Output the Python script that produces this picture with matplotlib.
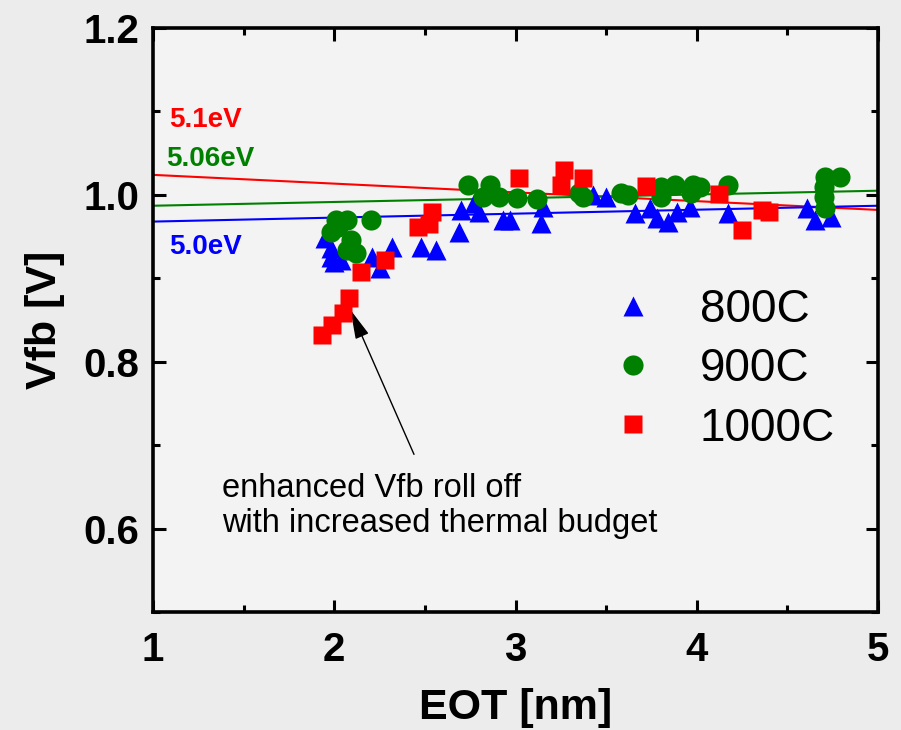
import numpy as np
import matplotlib
matplotlib.use("Agg")
import matplotlib.pyplot as plt
from matplotlib.ticker import MultipleLocator

plt.rcParams['font.family'] = ['Liberation Sans', 'DejaVu Sans']

# 800C (triangles)
eot_800 = [1.95, 1.98, 1.98, 2.00, 2.04, 2.21, 2.25, 2.32, 2.48, 2.56, 2.69, 2.70,
           2.77, 2.80, 2.93, 2.97, 3.14, 3.15, 3.43, 3.50, 3.66, 3.74, 3.78, 3.84,
           3.89, 3.96, 4.17, 4.61, 4.65, 4.74]
vfb_800 = [0.948, 0.936, 0.926, 0.920, 0.922, 0.926, 0.912, 0.938, 0.938, 0.934, 0.955, 0.982,
           0.990, 0.980, 0.970, 0.970, 0.966, 0.986, 1.000, 0.998, 0.978, 0.984, 0.972, 0.968,
           0.980, 0.986, 0.978, 0.984, 0.970, 0.974]

# 900C (circles)
eot_900 = [1.98, 2.01, 2.02, 2.07, 2.09, 2.07, 2.12, 2.20, 2.74, 2.82, 2.86, 2.91,
           3.01, 3.12, 3.35, 3.37, 3.58, 3.62, 3.80, 3.80, 3.88, 3.97, 3.98, 4.02,
           4.17, 4.70, 4.70, 4.71, 4.71, 4.79]
vfb_900 = [0.956, 0.970, 0.962, 0.970, 0.946, 0.934, 0.930, 0.970, 1.012, 0.998, 1.012, 0.998,
           0.996, 0.995, 1.002, 0.998, 1.002, 1.000, 1.010, 0.998, 1.012, 1.002, 1.012, 1.010,
           1.012, 1.010, 0.998, 1.022, 0.984, 1.022]

# 1000C (squares)
eot_1000 = [1.93, 1.99, 2.05, 2.08, 2.15, 2.28, 2.46, 2.52, 2.54, 3.02, 3.25, 3.27,
            3.37, 3.72, 4.12, 4.25, 4.36, 4.40]
vfb_1000 = [0.832, 0.844, 0.858, 0.877, 0.907, 0.922, 0.962, 0.965, 0.980, 1.020, 1.012, 1.030,
            1.020, 1.011, 1.001, 0.958, 0.982, 0.980]

# fitted lines (Vfb at EOT = 1 and 5)
fit_x = [1, 5]
fit_51 = [1.024, 0.982]
fit_506 = [0.987, 1.005]
fit_50 = [0.968, 0.987]

fig = plt.figure(figsize=(9.01, 7.30), dpi=100)
fig.patch.set_facecolor('#ececec')
ax = fig.add_axes([0.1698, 0.1616, 0.8047, 0.8])
ax.set_facecolor('#f3f3f3')

ax.plot(fit_x, fit_51, color='red', lw=1.5, zorder=2)
ax.plot(fit_x, fit_506, color='green', lw=1.5, zorder=2)
ax.plot(fit_x, fit_50, color='blue', lw=1.5, zorder=2)

ax.plot(eot_800, vfb_800, '^', color='blue', ms=14, mec='none', ls='none', label='800C', zorder=3)
ax.plot(eot_900, vfb_900, 'o', color='green', ms=14.5, mec='none', ls='none', label='900C', zorder=3)
ax.plot(eot_1000, vfb_1000, 's', color='red', ms=13, mec='none', ls='none', label='1000C', zorder=4)

ax.text(1.09, 1.09, '5.1eV', color='red', fontsize=20, fontweight='bold', va='center')
ax.text(1.07, 1.043, '5.06eV', color='green', fontsize=20, fontweight='bold', va='center')
ax.text(1.09, 0.937, '5.0eV', color='blue', fontsize=20, fontweight='bold', va='center')

ax.text(1.38, 0.627, 'enhanced Vfb roll off\nwith increased thermal budget',
        fontsize=23.5, linespacing=1.2, va='center', ha='left')
ax.annotate('', xy=(2.09, 0.862), xytext=(2.44, 0.689),
            arrowprops=dict(arrowstyle='-|>,head_length=0.9,head_width=0.22',
                            color='black', lw=1, mutation_scale=20,
                            shrinkA=0, shrinkB=0))

leg = ax.legend(loc='upper left', bbox_to_anchor=(0.555, 0.625), frameon=False,
                fontsize=33, handletextpad=0.65, labelspacing=0.33, markerscale=1.0,
                handlelength=1.6)

ax.set_xlim(1, 5)
ax.set_ylim(0.5, 1.2)
ax.xaxis.set_major_locator(MultipleLocator(1))
ax.xaxis.set_minor_locator(MultipleLocator(0.5))
ax.yaxis.set_minor_locator(MultipleLocator(0.1))
ax.set_yticks([0.6, 0.8, 1.0, 1.2])
ax.set_yticklabels(['0.6', '0.8', '1.0', '1.2'])

ax.tick_params(which='major', direction='in', length=9, width=2.2, labelsize=29)
ax.tick_params(axis='y', pad=10)
ax.tick_params(axis='x', pad=14)
ax.tick_params(which='minor', direction='in', length=5, width=2.2)
ax.tick_params(which='both', top=True, right=True)
for t in ax.get_xticklabels() + ax.get_yticklabels():
    t.set_fontweight('bold')
for s in ax.spines.values():
    s.set_linewidth(2.6)

ax.set_xlabel('EOT [nm]', fontsize=31, fontweight='bold', labelpad=13)
ax.set_ylabel('Vfb [V]', fontsize=31, fontweight='bold', labelpad=13)

fig.savefig('out.png', dpi=100, facecolor=fig.get_facecolor())
